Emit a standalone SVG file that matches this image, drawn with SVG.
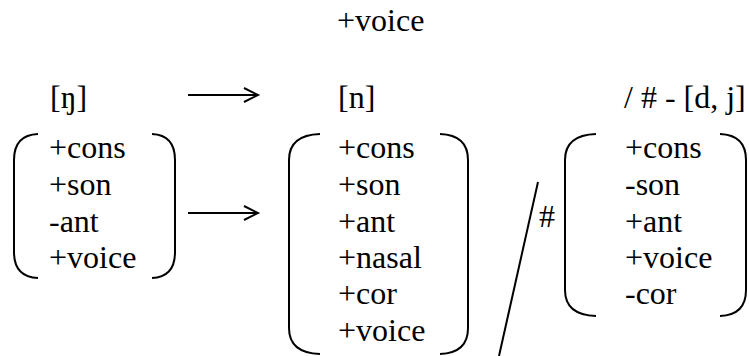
<svg xmlns="http://www.w3.org/2000/svg" width="749" height="356" viewBox="0 0 749 356">
<defs>
<style>
.br{fill:none;stroke:#000;stroke-width:2}
.ln{fill:none;stroke:#000;stroke-width:2}
</style>
</defs>
<rect width="749" height="356" fill="#fff"/>
<g id="top-voice"><text x="337" y="31" font-family="Times New Roman" font-size="32" style="font-family:'Liberation Serif',serif">+voice</text></g>
<g id="eng"><text x="50" y="108" font-family="Times New Roman" font-size="32" style="font-family:'Liberation Serif',serif">[ŋ]</text></g>
<g id="n"><text x="338" y="108" font-family="Times New Roman" font-size="32" style="font-family:'Liberation Serif',serif">[n]</text></g>
<g id="env"><text x="624" y="108" font-family="Times New Roman" font-size="32" style="font-family:'Liberation Serif',serif">/ # - [d, j]</text></g>
<g id="left-matrix">
<path class="br" d="M38,134 Q14,135 14,160 L14,252 Q14,277 38,278"/>
<path class="br" d="M152,134 Q175,135 175,160 L175,252 Q175,277 152,278"/>
<text x="49" y="158" font-size="32" style="font-family:'Liberation Serif',serif">+cons</text>
<text x="49" y="195" font-size="32" style="font-family:'Liberation Serif',serif">+son</text>
<text x="49" y="232" font-size="32" style="font-family:'Liberation Serif',serif">-ant</text>
<text x="49" y="268" font-size="32" style="font-family:'Liberation Serif',serif">+voice</text>
</g>
<g id="mid-matrix">
<path class="br" d="M320,134 Q289,135 289,160 L289,328 Q289,353 320,354"/>
<path class="br" d="M440,134 Q468,135 468,160 L468,328 Q468,353 440,354"/>
<text x="338" y="158" font-size="32" style="font-family:'Liberation Serif',serif">+cons</text>
<text x="338" y="195" font-size="32" style="font-family:'Liberation Serif',serif">+son</text>
<text x="338" y="232" font-size="32" style="font-family:'Liberation Serif',serif">+ant</text>
<text x="338" y="268" font-size="32" style="font-family:'Liberation Serif',serif">+nasal</text>
<text x="338" y="304" font-size="32" style="font-family:'Liberation Serif',serif">+cor</text>
<text x="338" y="341" font-size="32" style="font-family:'Liberation Serif',serif">+voice</text>
</g>
<g id="right-matrix">
<path class="br" d="M596,134 Q565,135 565,160 L565,290 Q565,315 596,316"/>
<path class="br" d="M720,134 Q746,135 746,160 L746,290 Q746,315 720,316"/>
<text x="625" y="158" font-size="32" style="font-family:'Liberation Serif',serif">+cons</text>
<text x="625" y="195" font-size="32" style="font-family:'Liberation Serif',serif">-son</text>
<text x="625" y="232" font-size="32" style="font-family:'Liberation Serif',serif">+ant</text>
<text x="625" y="268" font-size="32" style="font-family:'Liberation Serif',serif">+voice</text>
<text x="625" y="304" font-size="32" style="font-family:'Liberation Serif',serif">-cor</text>
</g>
<g id="hash"><text x="539" y="227" font-size="32" style="font-family:'Liberation Serif',serif">#</text></g>
<g id="connectors">
<path class="ln" d="M188,95 H257 M244,88 L258,95 L244,102"/>
<path class="ln" d="M188,213 H257 M244,206 L258,213 L244,220"/>
<path class="ln" d="M538,182 L499,356"/>
</g>
</svg>
